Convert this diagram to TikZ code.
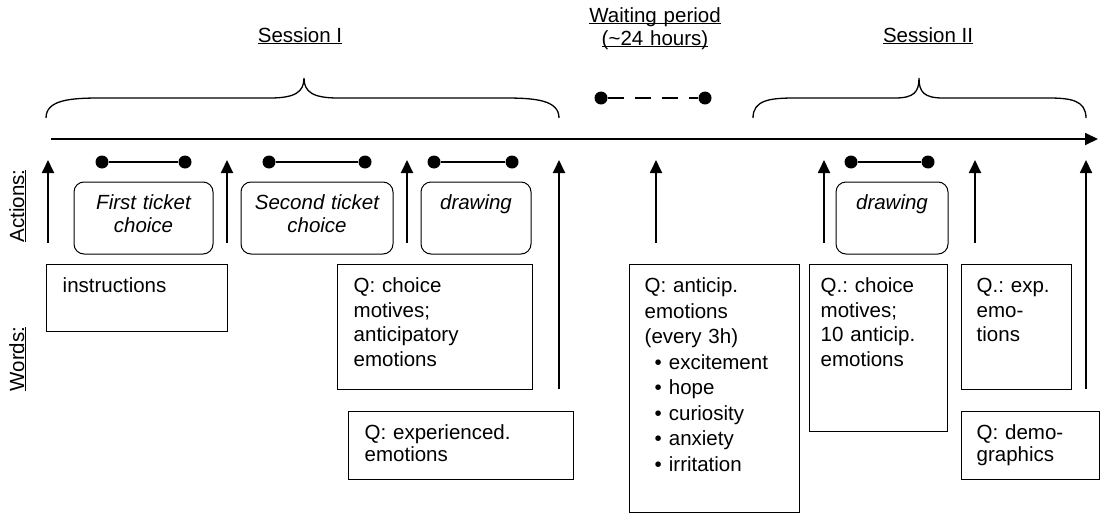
\documentclass[tikz,border=0pt]{standalone}
\usepackage{fontspec}
\setmainfont{Liberation Sans}
\usetikzlibrary{arrows.meta}
\frenchspacing
\newcommand{\undl}[1]{\underline{\smash{#1}}}
\newcommand{\itm}{\hspace*{10pt}\textbullet\hspace{7pt}}
\tikzset{
    every node/.style={font=\fontsize{20.5}{24.5}\selectfont}
}
\tikzset{
    actbox/.style={draw, line width=1pt, rounded corners=10pt, align=center,
        inner xsep=4pt, inner ysep=8pt, text height=19pt, text depth=37pt,
        font=\fontsize{20.5}{23}\selectfont\itshape},
    wordbox/.style={draw, line width=1.4pt, anchor=north west, align=left,
        inner xsep=16pt, inner ysep=6pt, text height=22pt},
    dot/.style={circle, fill, inner sep=0pt, minimum size=13pt},
    period/.style={line width=1.8pt},
    uparrow/.style={line width=1.8pt, -{Triangle[length=13pt,width=12pt]}},
    brace/.style={line width=1.3pt}
}

\begin{document}
\begin{tikzpicture}[x=1pt, y=-1pt]
	\useasboundingbox (0,0) rectangle (1103,514);

	% titles and row labels
	\node[anchor=base] (sess1) at (300,42) {\undl{Session I}};
	\node[anchor=base, text width=170pt, align=center,
		font=\fontsize{20.5}{23}\selectfont] (wait) at (655,22)
		{\undl{Waiting period}\\\undl{(\textasciitilde 24 hours)}};
	\node[anchor=base] (sess2) at (928,42) {\undl{Session II}};
	\node[rotate=90] (act) at (25,206) {\undl{Actions:}};
	\node[rotate=90] (wrd) at (25,359) {\undl{Words:}};

	% braces
	\draw[brace] (46,118) .. controls (46,100) and (70,98) .. (100,98) -- (270,98)
		.. controls (295,98) and (304,92) .. (304,78)
		.. controls (304,92) and (313,98) .. (338,98) -- (505,98)
		.. controls (535,98) and (559,100) .. (559,118);
	\draw[brace] (753,118) .. controls (753,100) and (770,98) .. (795,98) -- (895,98)
		.. controls (914,98) and (919,92) .. (919,78)
		.. controls (919,92) and (924,98) .. (943,98) -- (1048,98)
		.. controls (1070,98) and (1086,100) .. (1086,118);

	% time line
	\coordinate (t0) at (51,139);
	\coordinate (t1) at (1098,139);
	\draw[period, -{Triangle[length=13pt,width=12pt]}] (t0) -- (t1);

	% durations
	\foreach \n/\xa/\xb in {d1/102/185, d2/269/365, d3/434/512, d4/851/928} {
		\node[dot] (\n-a) at (\xa,162) {};
		\node[dot] (\n-b) at (\xb,162) {};
		\draw[period] (\n-a) -- (\n-b);
	}
	\node[dot] (w-a) at (601,98) {};
	\node[dot] (w-b) at (705,98) {};
	\draw[period, dash pattern=on 16pt off 11pt] (w-a) -- (w-b);

	% moments
	\foreach \n/\x/\y in {u1/48/243, u2/227/243, u3/407/243, u4/559/389,
		u5/656/243, u6/824/243, u7/975/243, u8/1086/389} {
		\coordinate (\n-s) at (\x,\y);
		\coordinate (\n-e) at (\x,160);
		\draw[uparrow] (\n-s) -- (\n-e);
	}

	% actions
	\node[actbox, text width=131pt] (first) at (143.5,218) {First ticket\\choice};
	\node[actbox, text width=144pt] (second) at (317,218) {Second ticket\\choice};
	\node[actbox, text width=102pt] (draw1) at (476,218) {drawing};
	\node[actbox, text width=104pt] (draw2) at (892,218) {drawing};

	% words
	\node[wordbox, text width=149pt, text depth=33pt] (instr) at (46,264) {instructions};
	\node[wordbox, text width=163pt, text depth=91pt] (qmot1) at (337,264)
		{Q: choice\\motives;\\anticipatory\\emotions};
	\node[wordbox, text width=193pt, text depth=34pt,
		font=\fontsize{20.5}{22}\selectfont] (qexp1) at (348,411)
		{Q: experienced.\\emotions};
	\node[wordbox, inner xsep=15pt, text width=140pt, text depth=214pt,
		font=\fontsize{20.5}{25.5}\selectfont] (qant) at (629,264)
		{Q: anticip.\\emotions\\(every 3h)\\\itm excitement\\\itm hope\\\itm curiosity\\\itm anxiety\\\itm irritation};
	\node[wordbox, inner xsep=11pt, text width=116pt, text depth=133pt] (qmot2) at (809,264)
		{Q.: choice\\motives;\\10 anticip.\\emotions};
	\node[wordbox, inner xsep=15pt, text width=80pt, text depth=91pt] (qexp2) at (961,264)
		{Q.: exp.\\emo-\\tions};
	\node[wordbox, inner xsep=15pt, text width=108pt, text depth=34pt,
		font=\fontsize{20.5}{22}\selectfont] (qdemo) at (961,411)
		{Q: demo-\\graphics};
\end{tikzpicture}
\end{document}
